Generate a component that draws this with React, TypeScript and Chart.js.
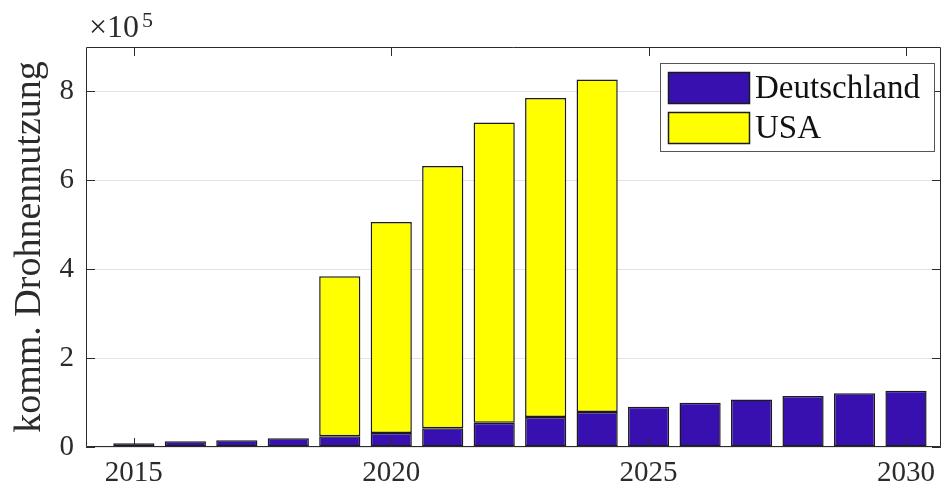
import React, { useEffect, useRef } from 'react';
import { Chart, registerables } from 'chart.js';

Chart.register(...registerables);

const years = [2015, 2016, 2017, 2018, 2019, 2020, 2021, 2022, 2023, 2024, 2025, 2026, 2027, 2028, 2029, 2030];
const deutschland = [8300, 12800, 15000, 19500, 24000, 31500, 42000, 54600, 67400, 79000, 90600, 99600, 107000, 114600, 120700, 126500];
const usaYears = [2019, 2020, 2021, 2022, 2023, 2024];
const usa = [360000, 474800, 590000, 675400, 717600, 748000];
const xTickValues = [2015, 2020, 2025, 2030];
const yTickValues = [0, 200000, 400000, 600000, 800000];
const seriesNames = ['Deutschland', 'USA'];
const yTitle = 'komm. Drohnennutzung';

const FONT = "'Liberation Serif', 'Times New Roman', serif";
const AXIS = '#2b2b2b';

const decorPlugin = {
  id: 'decor',
  afterDraw(chart: any) {
    const { ctx, chartArea: a, scales } = chart;
    const xs = scales.x;
    const ys = scales.y;
    ctx.save();
    // box
    ctx.strokeStyle = AXIS;
    ctx.lineWidth = 1;
    ctx.beginPath();
    ctx.rect(a.left + 0.5, a.top + 0.5, a.right - a.left - 1, a.bottom - a.top - 1);
    ctx.stroke();
    // inward ticks
    const tl = 9;
    ctx.beginPath();
    for (const v of xTickValues) {
      const px = Math.round(xs.getPixelForValue(v)) + 0.5;
      ctx.moveTo(px, a.bottom);
      ctx.lineTo(px, a.bottom - tl);
      ctx.moveTo(px, a.top);
      ctx.lineTo(px, a.top + tl);
    }
    for (const v of yTickValues) {
      const py = Math.round(ys.getPixelForValue(v)) + 0.5;
      ctx.moveTo(a.left, py);
      ctx.lineTo(a.left + tl, py);
      ctx.moveTo(a.right, py);
      ctx.lineTo(a.right - tl, py);
    }
    ctx.stroke();

    // exponent label
    ctx.fillStyle = AXIS;
    ctx.textBaseline = 'alphabetic';
    ctx.textAlign = 'left';
    ctx.font = `32px ${FONT}`;
    const base = '\u00d710';
    ctx.fillText(base, 89, 37);
    const w = ctx.measureText(base).width;
    ctx.font = `22px ${FONT}`;
    ctx.fillText('5', 89 + w + 3, 27);

    // legend
    const lx = 660, ly = 63, lw = 274, lh = 88;
    ctx.fillStyle = '#ffffff';
    ctx.fillRect(lx, ly, lw, lh);
    ctx.strokeStyle = '#555555';
    ctx.lineWidth = 1;
    ctx.strokeRect(lx + 0.5, ly + 0.5, lw, lh);
    chart.data.datasets.forEach((ds: any, i: number) => {
      const sy = 72 + i * 40;
      ctx.fillStyle = ds.backgroundColor;
      ctx.fillRect(668, sy, 81, 31);
      ctx.strokeStyle = '#1a1a1a';
      ctx.lineWidth = 1.5;
      ctx.strokeRect(668.5, sy + 0.5, 81, 31);
      ctx.fillStyle = '#111111';
      ctx.font = `33px ${FONT}`;
      ctx.textBaseline = 'alphabetic';
      ctx.fillText(ds.label, 755, sy + 26);
    });
    ctx.restore();
  },
};

export default function App() {
  const ref = useRef<HTMLCanvasElement | null>(null);
  useEffect(() => {
    if (!ref.current) return;
    const chart = new Chart(ref.current, {
      type: 'bar',
      data: {
        datasets: [
          {
            label: seriesNames[0],
            data: years.map((y, i) => ({ x: y, y: deutschland[i] })),
            backgroundColor: '#3810b0',
            borderColor: '#1a1a1a',
            borderWidth: 1.5,
            borderSkipped: false,
            barPercentage: 0.8,
            categoryPercentage: 1,
          },
          {
            label: seriesNames[1],
            data: usaYears.map((y, i) => ({ x: y, y: usa[i] })),
            backgroundColor: '#ffff00',
            borderColor: '#1a1a1a',
            borderWidth: 1.5,
            borderSkipped: false,
            barPercentage: 0.8,
            categoryPercentage: 1,
          },
        ],
      },
      options: {
        animation: false,
        responsive: false,
        layout: { padding: { left: 0, right: 5, top: 47, bottom: 0 } },
        plugins: { legend: { display: false }, tooltip: { enabled: false } },
        scales: {
          x: {
            type: 'linear',
            stacked: true,
            offset: false,
            min: 2014.07,
            max: 2030.68,
            afterBuildTicks: (s: any) => {
              s.ticks = xTickValues.map((v) => ({ value: v }));
            },
            afterFit: (s: any) => {
              s.height = 42;
            },
            grid: { display: false, drawTicks: false, offset: false },
            border: { display: false },
            ticks: {
              padding: 9,
              color: AXIS,
              font: { family: FONT, size: 29 },
              callback: (v: any) => String(v),
              maxRotation: 0,
              autoSkip: false,
            },
          },
          y: {
            stacked: true,
            min: 0,
            max: 900000,
            afterBuildTicks: (s: any) => {
              s.ticks = yTickValues.map((v) => ({ value: v }));
            },
            afterFit: (s: any) => {
              s.width = 86;
            },
            grid: { color: '#e3e3e3', drawTicks: false },
            border: { display: false },
            ticks: {
              padding: 12,
              color: AXIS,
              font: { family: FONT, size: 29 },
              callback: (v: any) => String(Number(v) / 100000),
            },
            title: {
              display: true,
              text: yTitle,
              color: AXIS,
              font: { family: FONT, size: 38 },
              padding: { top: 7, bottom: 0 },
            },
          },
        },
      },
      plugins: [decorPlugin],
    });
    return () => chart.destroy();
  }, []);
  return (
    <div style={{ position: 'absolute', left: 0, top: 0, width: 946, height: 489, background: '#fff' }}>
      <canvas ref={ref} width={946} height={489} style={{ width: 946, height: 489, display: 'block' }} />
    </div>
  );
}
